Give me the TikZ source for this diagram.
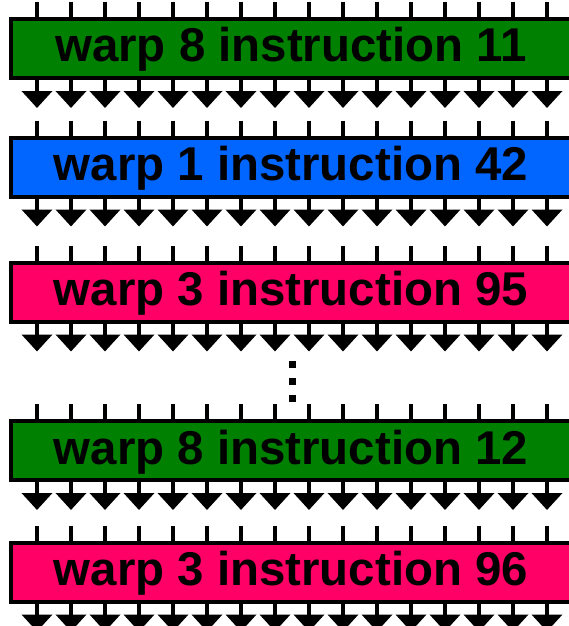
\documentclass[tikz,border=0pt]{standalone}
\usepackage{fontspec}
\setsansfont{Liberation Sans}
\usetikzlibrary{arrows.meta}
\begin{document}
\begin{tikzpicture}[x=1pt,y=-1pt,font=\sffamily\bfseries]
\definecolor{wgreen}{HTML}{008000}\definecolor{wblue}{HTML}{0066FF}\definecolor{wpink}{HTML}{FF0066}
\tikzset{warpbox/.style={draw=black,line width=4pt,minimum width=560pt,minimum height=59pt,inner sep=0pt,text height=34pt,text depth=7pt,font=\sffamily\bfseries\fontsize{47.4}{50}\selectfont},
 lane/.style={line width=4pt},
 lanearrow/.style={line width=4pt,-{Triangle[width=30pt,length=17pt]}}}
\useasboundingbox (0,0) rectangle (569,626);
\node[warpbox,fill=wgreen] (w8a) at (291,48.5) {warp 8 instruction 11};
\node[warpbox,fill=wblue] (w1) at (291,167) {warp 1 instruction 42};
\node[warpbox,fill=wpink] (w3a) at (291,292) {warp 3 instruction 95};
\node[warpbox,fill=wgreen] (w8b) at (291,450.5) {warp 8 instruction 12};
\node[warpbox,fill=wpink] (w3b) at (291,572) {warp 3 instruction 96};
% sixteen lanes in and out of every issue slot
\foreach \w in {w8a,w1,w3a,w8b,w3b}{\foreach \i in {0,...,15}{
 \coordinate (\w in\i) at ([xshift=28pt+\i*34pt,yshift=15pt]\w.north west);
 \coordinate (\w out\i) at ([xshift=28pt+\i*34pt,yshift=-28pt]\w.south west);
 \draw[lane] (\w in\i) -- (\w in\i |- \w.north);
 \draw[lanearrow] (\w out\i |- \w.south) -- (\w out\i);
}}
% vertical ellipsis
\foreach \y in {364,381,398}
 \fill (288.5,\y-3.5) rectangle ++(7,7);
\end{tikzpicture}
\end{document}
